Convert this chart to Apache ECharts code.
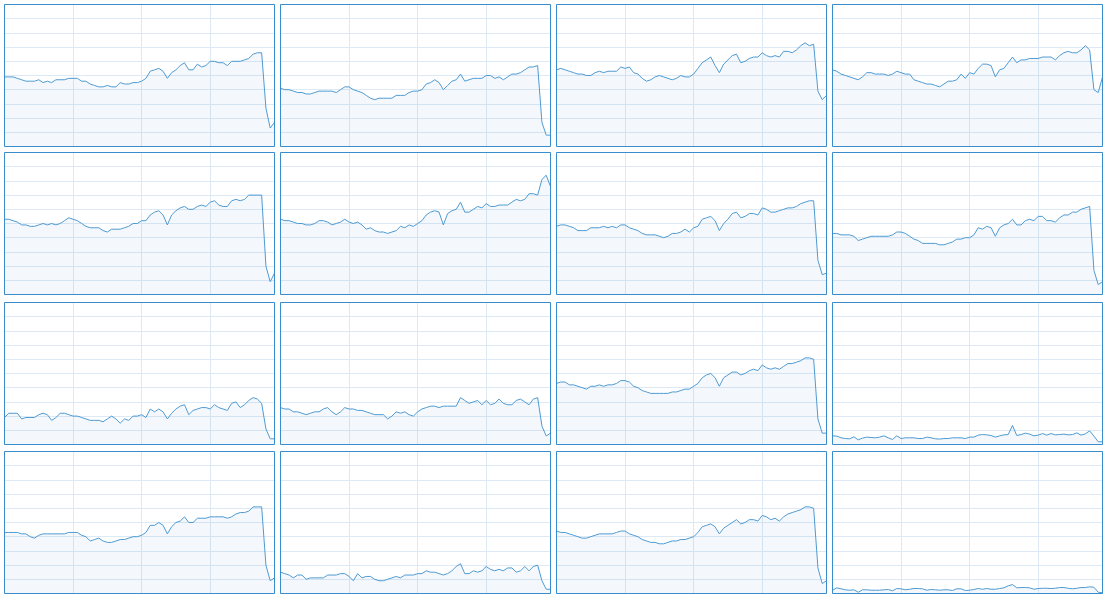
<!DOCTYPE html>
<html>
<head>
<meta charset="utf-8">
<script src="https://cdn.jsdelivr.net/npm/echarts@6/dist/echarts.min.js"></script>
<style>html,body{margin:0;padding:0;background:#fff;}#main{width:1108px;height:600px;}</style>
</head>
<body>
<div id="main"></div>
<script>
var categories = ['1','2','3','4','5','6','7','8','9','10','11','12','13','14','15','16','17','18','19','20','21','22','23','24','25','26','27','28','29','30','31','32','33','34','35','36','37','38','39','40','41','42','43','44','45','46','47','48','49','50','51','52','53','54','55','56','57','58','59','60','61','62','63','64'];

var s1 = [49,49,49,48,47,46,46,46,47,45,46,45,47,47,47,48,48,48,46,46,44,43,42,42,43,42,42,45,44,44,45,45,46,48,53,54,55,53,48,52,54,57,59,54,54,58,56,57,60,60,59,59,57,60,60,60,61,62,65,66,66,27,13,17];
var s2 = [41,40,40,39,38,38,37,37,38,39,39,39,39,38,40,42,42,40,39,38,36,34,33,34,34,34,34,36,36,36,38,39,39,40,44,45,47,45,40,43,46,47,51,46,47,48,48,48,50,50,48,49,47,49,51,51,52,54,56,56,57,17,8,8];
var s3 = [54,55,54,53,52,51,51,50,50,52,53,52,53,53,53,56,55,56,52,51,48,46,47,49,50,49,48,47,48,50,49,49,51,55,59,61,63,57,52,58,61,64,65,59,60,62,63,63,66,64,63,64,63,67,67,66,68,71,73,71,72,39,33,36];
var s4 = [54,53,51,50,49,48,47,49,52,52,51,51,51,50,51,53,52,51,51,47,46,45,44,44,43,42,44,46,46,47,51,48,52,51,55,58,58,57,49,54,55,59,63,59,61,61,62,62,62,63,63,63,61,64,66,67,66,66,68,71,68,40,38,49];
var s5 = [53,53,52,51,49,49,48,48,49,50,49,50,49,50,52,54,53,52,50,48,47,47,47,45,44,46,46,46,47,48,50,50,52,52,56,58,59,56,49,56,59,61,62,60,60,62,63,62,65,66,63,62,62,66,67,66,67,70,70,70,70,20,9,15];
var s6 = [53,52,52,51,50,50,49,49,50,52,52,51,49,50,51,53,51,50,51,49,46,47,45,44,44,43,44,45,48,47,49,48,50,52,56,58,59,58,49,57,59,60,65,58,58,60,62,61,64,62,62,63,63,63,65,67,66,67,71,71,70,81,84,76];
var s7 = [48,49,49,48,47,45,45,45,47,47,47,48,47,48,47,49,49,47,46,45,43,42,42,42,41,40,41,43,43,44,46,44,47,48,53,54,55,52,45,50,53,57,58,54,55,57,57,56,61,60,58,58,59,60,61,61,62,64,65,66,66,24,14,15];
var s8 = [43,43,42,42,42,41,38,39,40,41,41,41,41,41,42,44,44,43,41,39,38,36,36,36,36,35,35,36,37,39,39,40,40,42,47,46,48,47,41,47,49,50,53,49,49,52,53,52,55,55,52,52,51,54,56,56,58,58,60,61,62,17,7,9];
var s9 = [19,22,22,22,18,19,19,19,21,22,21,17,19,22,22,21,20,20,19,18,17,17,17,16,18,20,18,15,18,17,20,20,21,19,25,23,25,23,18,22,25,27,28,21,24,25,26,26,25,28,26,25,24,29,30,26,28,31,33,32,29,11,4,4];
var s10 = [26,25,25,23,23,22,21,22,23,23,25,26,23,21,23,26,25,25,24,24,23,22,21,21,21,18,20,23,22,23,21,20,23,25,26,27,27,26,27,27,27,27,33,31,29,30,31,28,31,28,29,32,29,28,28,31,32,30,28,32,33,13,6,8];
var s11 = [43,44,44,42,42,41,40,39,41,41,42,41,42,42,43,45,45,44,41,40,38,37,36,36,36,36,36,37,37,38,39,39,41,43,47,49,50,47,41,47,49,51,51,49,50,52,53,52,56,54,53,54,53,55,57,57,58,59,61,61,60,18,8,8];
var s12 = [6.1,5.9,4.7,4.2,4.0,5.4,3.3,4.5,5.2,4.9,4.7,5.2,6.1,4.7,3.5,6.1,4.2,4.7,4.7,4.7,4.2,4.2,5.2,4.7,4.0,3.8,4.2,4.2,4.7,4.7,4.7,4.2,5.2,5.2,6.6,7.0,6.8,6.3,5.2,6.1,6.8,7.0,13.4,6.3,7.0,8.0,7.3,6.1,6.6,7.7,6.6,7.7,6.8,7.0,7.3,6.8,7.0,8.2,6.6,7.5,9.6,5.9,1.9,1.9];
var s13 = [43,43,43,43,42,42,40,39,41,42,42,42,42,42,42,43,43,43,41,40,37,38,39,37,36,36,37,38,38,39,40,40,41,43,48,48,50,48,42,47,50,51,54,50,50,53,53,53,54,54,54,54,53,54,56,57,57,58,61,61,61,20,9,11];
var s14 = [15,14,13,11,13,13,10,11,11,11,11,13,13,13,14,14,12,9,14,11,12,12,10,9,9,10,11,12,11,13,13,13,14,14,16,15,15,14,13,14,16,19,21,14,14,16,15,16,19,17,16,17,16,18,18,15,16,19,16,19,20,9,3,3];
var s15 = [44,43,43,42,41,40,39,39,40,41,42,42,42,42,43,44,44,42,41,40,38,37,36,36,35,35,36,37,37,38,38,39,40,43,47,48,49,47,42,46,48,50,52,49,50,52,52,51,55,54,52,53,51,54,56,57,58,59,61,61,60,18,7,9];
var s16 = [2.3,4.0,3.3,2.6,2.3,2.6,0.9,2.6,2.6,2.3,2.3,2.3,2.6,2.8,1.9,3.5,3.3,2.6,3.0,3.5,3.5,3.3,2.3,2.8,2.6,2.3,2.6,2.6,2.1,3.3,3.3,2.1,2.3,2.8,3.5,3.0,3.5,3.0,3.0,3.5,4.0,5.4,6.3,4.0,4.2,4.2,4.0,3.0,3.5,3.7,3.7,3.5,3.7,4.2,4.2,3.7,3.3,3.7,4.2,4.2,4.7,4.4,0.9,0.5];

var allSeries = [s1,s2,s3,s4,s5,s6,s7,s8,s9,s10,s11,s12,s13,s14,s15,s16];

var gridColor = '#dde9f4';
var lefts = [4.5, 280.5, 556.5, 832.5];
var tops = [4.5, 152.5, 302.5, 451.5];
var grids = [], xAxes = [], yAxes = [], series = [];
allSeries.forEach(function (data, i) {
  var r = Math.floor(i / 4), c = i % 4;
  grids.push({
    left: lefts[c], top: tops[r], width: 270, height: 142, z: 5,
    show: true, borderColor: '#3a8dcc', borderWidth: 1, backgroundColor: 'transparent',
    containLabel: false
  });
  xAxes.push({
    type: 'category', gridIndex: i, data: categories, boundaryGap: false,
    axisLine: { show: false }, axisTick: { show: false }, axisLabel: { show: false },
    splitLine: { show: true, interval: 15, lineStyle: { color: gridColor, width: 1 } }
  });
  yAxes.push({
    type: 'value', gridIndex: i, min: 0, max: 100, interval: 10,
    axisLine: { show: false }, axisTick: { show: false }, axisLabel: { show: false },
    splitLine: { show: true, lineStyle: { color: gridColor, width: 1 } }
  });
  series.push({
    type: 'line', xAxisIndex: i, yAxisIndex: i, data: data,
    showSymbol: false, symbol: 'none',
    lineStyle: { color: '#4e9ad2', width: 1 },
    itemStyle: { color: '#4e9ad2' },
    areaStyle: { color: 'rgba(80,140,200,0.09)' }
  });
});

var chart = echarts.init(document.getElementById('main'), null, { renderer: 'canvas' });
chart.setOption({
  animation: false,
  grid: grids, xAxis: xAxes, yAxis: yAxes, series: series
});
</script>
</body>
</html>
